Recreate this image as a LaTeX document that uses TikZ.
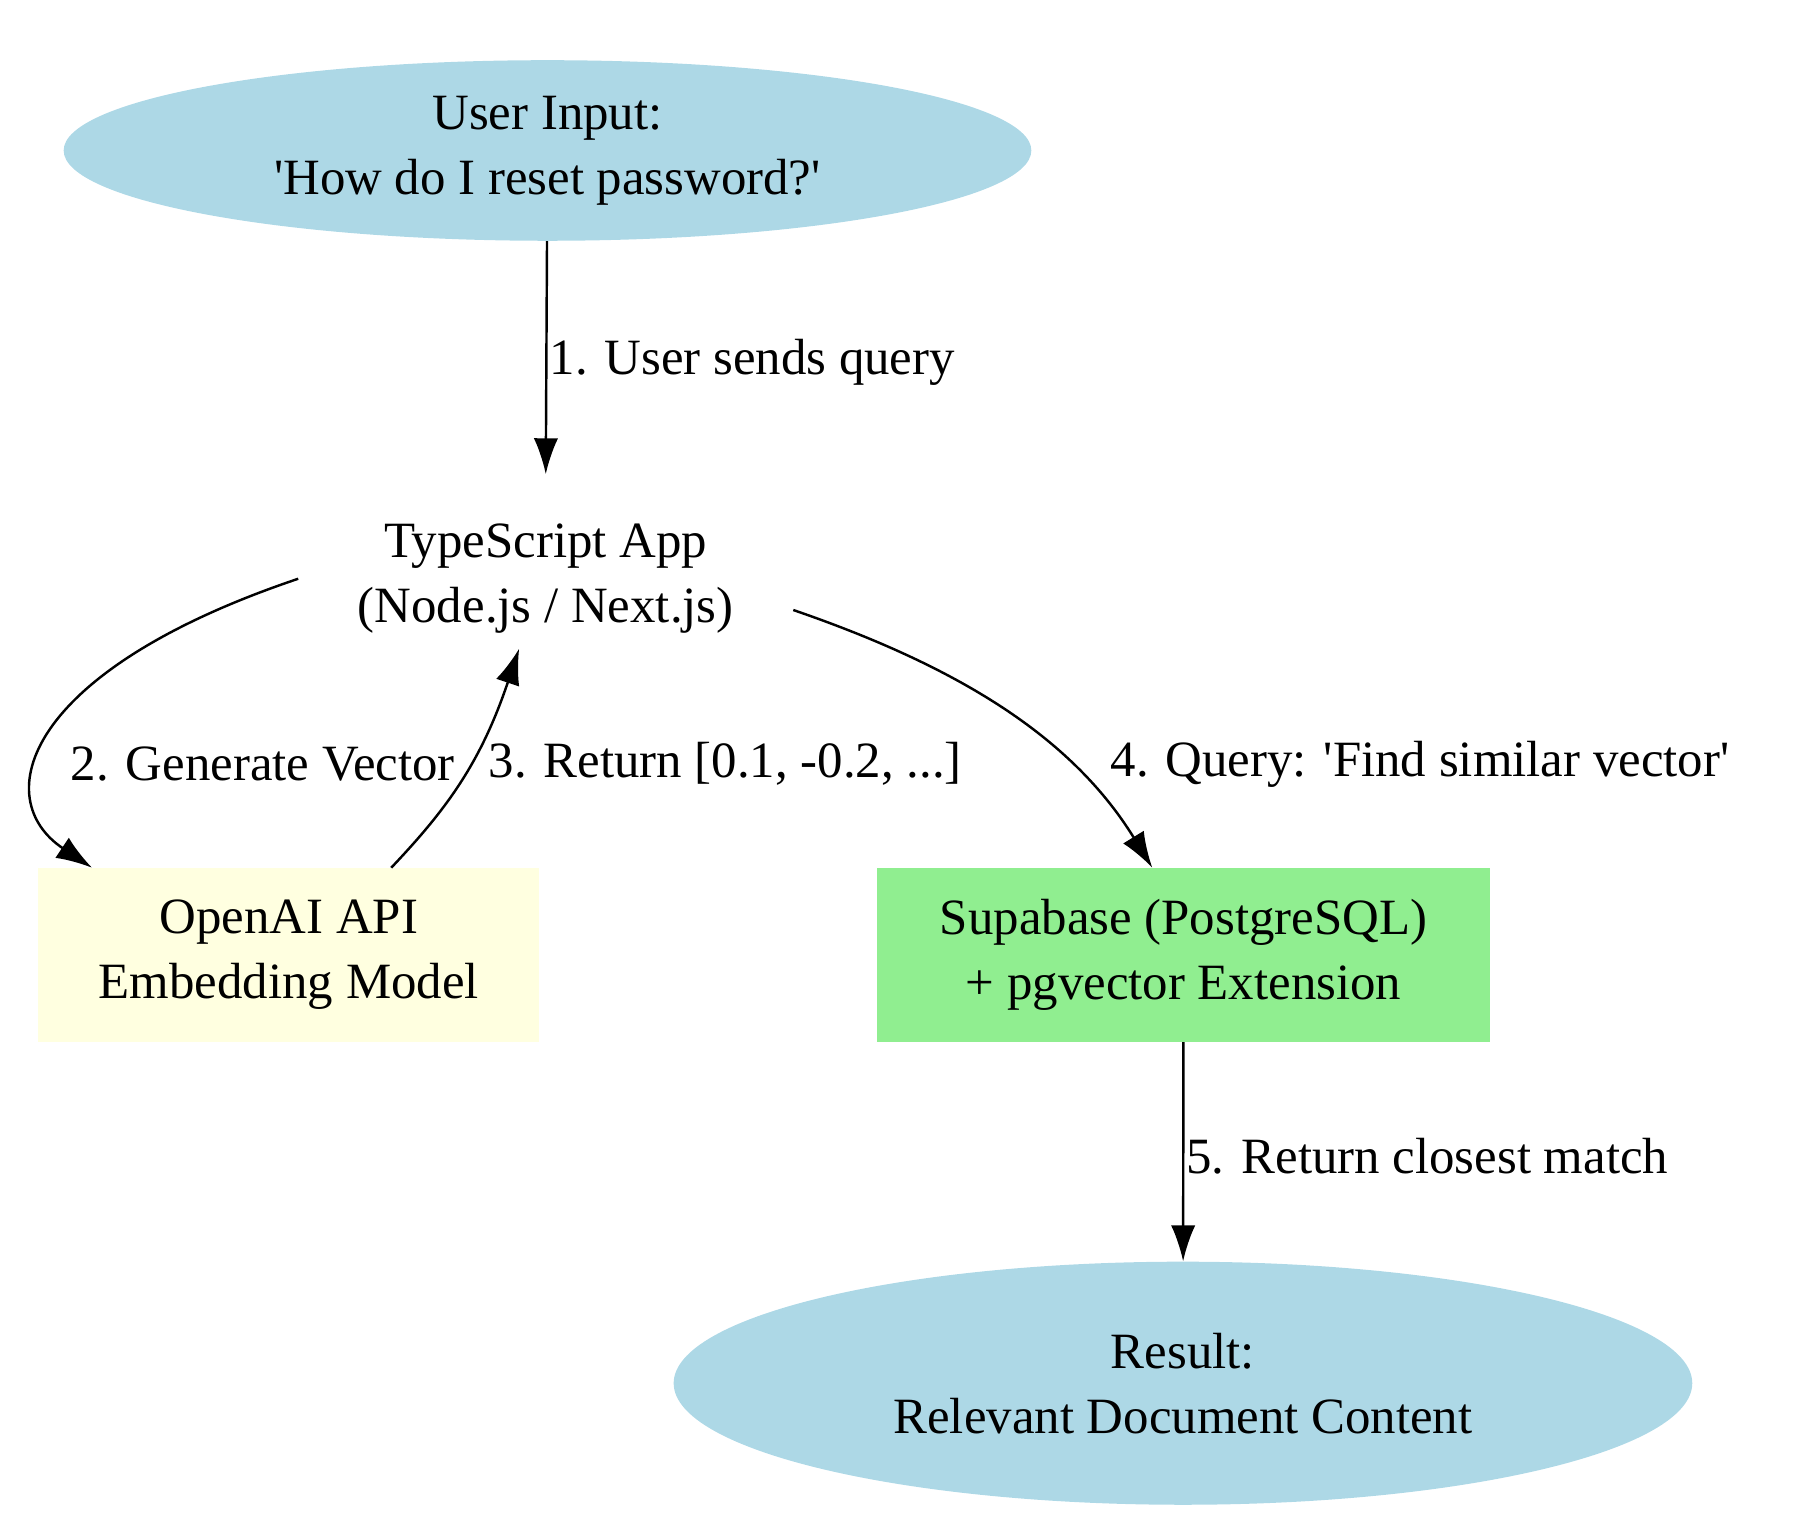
\documentclass[tikz,border=0pt]{standalone}
\usepackage{fontspec}
\setmainfont{Liberation Serif}[Ligatures=TeXOff]
\usetikzlibrary{positioning}
\usetikzlibrary{arrows.meta}
\usetikzlibrary{shapes.geometric}
\definecolor{lblue}{HTML}{ADD8E6}
\definecolor{lyellow}{HTML}{FFFFE0}
\definecolor{lgreen}{HTML}{90EE90}
\tikzset{>={Latex[length=0.62cm,width=0.42cm]}}
\tikzset{ed/.style={right,inner sep=1pt,font=\fontsize{25}{30}\selectfont}}
\tikzset{term/.style={ellipse, fill=lblue, align=center, inner sep=0pt}}
\tikzset{svc/.style={rectangle, align=center, inner sep=0pt, minimum width=8.66cm, minimum height=3cm}}
\tikzset{flow/.style={->, line width=1.2pt}}

\begin{document}
\begin{tikzpicture}[font=\fontsize{25}{32}\selectfont]
\useasboundingbox (0,0) rectangle (31.24,-26.2);

\node[term, minimum width=16.72cm, minimum height=3.12cm] (user) at (9.46,-2.6)
  {User Input:\\'How do I reset password?'};
\node[align=center, minimum width=8.54cm, minimum height=2.4cm, inner sep=0pt] (ts) at (9.43,-10)
  {TypeScript App\\(Node.js / Next.js)};
\node[svc, fill=lyellow] (openai) at (4.99,-16.5) {OpenAI API\\Embedding Model};
\node[svc, fill=lgreen, minimum width=10.58cm] (supa) at (20.45,-16.5)
  {Supabase (PostgreSQL)\\+ pgvector Extension};
\node[term, minimum width=17.6cm, minimum height=4.2cm] (result) at (20.44,-23.9)
  {Result:\\Relevant Document Content};

\draw[flow] (user) -- node[ed, pos=0.52] {1. User sends query} ([yshift=0.6cm]ts.north);
\draw[flow] (ts.west) .. controls (0.4,-11.6) and (-0.2,-13.8) .. ([xshift=-3.4cm]openai.north);
\node[ed, left] (l2) at (7.9,-13.2) {2. Generate Vector};
\draw[flow] ([xshift=1.77cm]openai.north) .. controls (7.7,-14) and (8.3,-13.2) .. ([xshift=-0.46cm]ts.south);
\node[ed] (l3) at (8.4,-13.2) {3. Return [0.1, -0.2, ...]};
\draw[flow] ([yshift=-0.54cm]ts.east) .. controls (16.5,-11.5) and (18.5,-12.7) .. ([xshift=-0.54cm]supa.north);
\node[ed] (l4) at (19.15,-13.2) {4. Query: 'Find similar vector'};
\draw[flow] (supa) -- node[ed, pos=0.52] {5. Return closest match} (result);

\end{tikzpicture}
\end{document}
